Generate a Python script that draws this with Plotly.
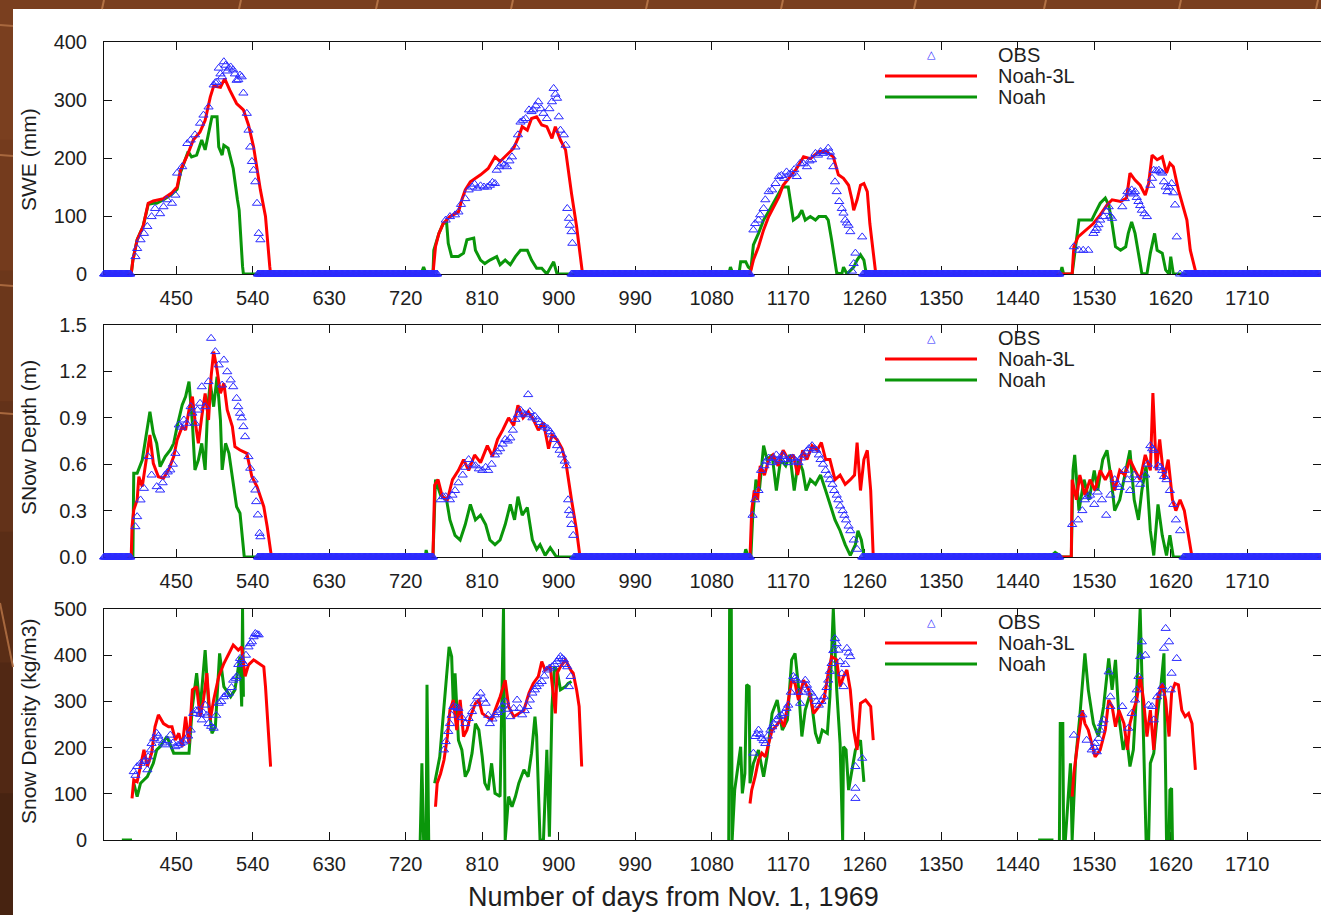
import plotly.graph_objects as go

# ---------------------------------------------------------------------------
# Data: day number (days from Nov. 1, 1969) and value
# ---------------------------------------------------------------------------
X_TICKS = [450, 540, 630, 720, 810, 900, 990, 1080, 1170, 1260, 1350, 1440, 1530, 1620, 1710]
SWE_TICKS = [0, 100, 200, 300, 400]
DEPTH_TICKS = [0.0, 0.3, 0.6, 0.9, 1.2, 1.5]
DEPTH_TICKTEXT = ["0.0", "0.3", "0.6", "0.9", "1.2", "1.5"]
DENS_TICKS = [0, 100, 200, 300, 400, 500]

# runs of consecutive days with zero observed snow (daily OBS = 0)
SWE_OBS_ZERO_RUNS = [(365, 396), (546, 757), (915, 1125), (1258, 1489), (1636, 1796)]
DEPTH_OBS_ZERO_RUNS = [(365, 396), (546, 752), (918, 1125), (1257, 1489), (1635, 1796)]

# ---- SWE (mm)
SWE_OBS = [
    (402, 30), (404, 44), (408, 59), (412, 70), (416, 82), (421, 99), (425, 113), (431, 104),
    (435, 116), (439, 128), (445, 122), (449, 136), (451, 174), (457, 185), (463, 225), (467, 231),
    (472, 240), (478, 260), (482, 274), (488, 288), (494, 326), (496, 330), (498, 331), (500, 355),
    (502, 345), (504, 340), (506, 366), (508, 360), (510, 350), (512, 355), (514, 357), (517, 352),
    (519, 345), (521, 334), (523, 335), (525, 343), (527, 340), (529, 312), (533, 277), (535, 248),
    (537, 219), (539, 194), (541, 179), (543, 159), (545, 122), (547, 70), (549, 59),
    (767, 93), (772, 99), (778, 102), (782, 107), (785, 120), (790, 130), (794, 145), (798, 150),
    (801, 155), (804, 148), (808, 152), (812, 150), (816, 150), (819, 153), (822, 158), (825, 156),
    (827, 179), (830, 185), (833, 191), (836, 188), (839, 185), (842, 195), (845, 202), (849, 219),
    (852, 240), (855, 262), (858, 265), (861, 268), (865, 283), (868, 280), (870, 283), (873, 290),
    (876, 297), (879, 285), (882, 277), (886, 268), (889, 285), (892, 297), (894, 320), (896, 310),
    (898, 303), (900, 271), (902, 248), (906, 240), (908, 222), (910, 113), (912, 96), (913, 84),
    (915, 73), (916, 53),
    (1129, 76), (1131, 87), (1135, 93), (1137, 102), (1141, 113), (1143, 128), (1147, 142),
    (1151, 145), (1155, 156), (1159, 168), (1162, 170), (1165, 165), (1168, 176), (1171, 172),
    (1174, 174), (1177, 180), (1180, 168), (1184, 191), (1188, 190), (1192, 185), (1195, 195),
    (1198, 197), (1202, 208), (1205, 205), (1208, 211), (1211, 208), (1214, 211), (1217, 217),
    (1219, 210), (1221, 202), (1223, 185), (1225, 159), (1227, 142), (1230, 125), (1233, 113),
    (1235, 105), (1237, 93), (1239, 88), (1241, 84), (1243, 73), (1245, 5), (1247, 18), (1249, 36),
    (1257, 64),
    (1506, 47), (1512, 41), (1517, 41), (1523, 41), (1529, 70), (1531, 75), (1533, 79), (1535, 85),
    (1537, 93), (1541, 99), (1544, 108), (1547, 116), (1549, 100), (1551, 96), (1563, 116),
    (1566, 130), (1569, 142), (1572, 140), (1574, 145), (1576, 138), (1578, 142), (1580, 132),
    (1582, 125), (1584, 118), (1586, 110), (1589, 104), (1592, 99), (1596, 153), (1598, 165),
    (1600, 179), (1603, 178), (1606, 179), (1608, 176), (1610, 174), (1612, 159), (1614, 150),
    (1616, 142), (1618, 150), (1621, 156), (1623, 140), (1625, 119), (1627, 64), (1631, 0),
]

SWE_NOAH3L = [
    (365, 0), (397, 0), (399, 24), (404, 59), (411, 82), (417, 122), (423, 126), (435, 130),
    (445, 140), (451, 150), (455, 179), (464, 208), (470, 231), (478, 245), (484, 265), (490, 305),
    (494, 324), (502, 322), (507, 337), (513, 317), (521, 294), (529, 283), (535, 257), (541, 219),
    (549, 145), (555, 99), (560, 13), (561, 0),
    (752, 0), (755, 47), (759, 70), (764, 87), (772, 99), (782, 107), (786, 128), (790, 145),
    (796, 159), (808, 171), (817, 182), (825, 202), (831, 194), (839, 205), (847, 217), (853, 237),
    (857, 254), (863, 248), (868, 268), (874, 271), (880, 257), (886, 254), (892, 234), (896, 254),
    (902, 231), (908, 214), (911, 179), (915, 139), (921, 82), (927, 7), (928, 0),
    (1125, 0), (1129, 24), (1135, 47), (1141, 76), (1147, 99), (1153, 116), (1159, 133),
    (1164, 153), (1172, 168), (1180, 182), (1188, 202), (1196, 199), (1206, 211), (1215, 211),
    (1223, 202), (1229, 171), (1235, 165), (1241, 153), (1245, 128), (1247, 110), (1251, 128),
    (1255, 153), (1259, 156), (1263, 142), (1266, 87), (1270, 36), (1272, 7), (1273, 0),
    (1504, 0), (1506, 47), (1511, 64), (1521, 76), (1529, 87), (1537, 102), (1545, 119),
    (1551, 128), (1561, 125), (1568, 131), (1572, 174), (1578, 162), (1584, 153), (1590, 136),
    (1594, 156), (1598, 205), (1604, 197), (1610, 202), (1615, 174), (1619, 191), (1623, 185),
    (1629, 145), (1635, 116), (1639, 93), (1643, 41), (1649, 1), (1650, 0), (1800, 0),
]

SWE_NOAH = [
    (365, 0), (397, 0), (399, 24), (404, 59), (411, 82), (417, 120), (423, 122), (427, 122),
    (435, 128), (445, 138), (451, 146), (455, 175), (464, 211), (468, 202), (474, 205), (480, 231),
    (484, 214), (488, 242), (492, 271), (498, 271), (500, 219), (504, 205), (506, 222), (511, 217),
    (517, 182), (522, 128), (524, 110), (528, 13), (529, 0),
    (738, 0), (741, 12), (744, 0), (752, 0), (753, 41), (759, 70), (764, 87), (768, 90), (770, 53),
    (774, 30), (782, 30), (788, 36), (792, 59), (800, 62), (802, 41), (808, 24), (813, 18),
    (819, 24), (827, 30), (831, 16), (837, 24), (843, 16), (849, 30), (855, 41), (863, 41),
    (868, 24), (874, 10), (880, 10), (886, 0), (894, 21), (898, 0),
    (1100, 0), (1102, 12), (1105, 0), (1112, 0), (1114, 21), (1120, 21), (1123, 12), (1126, 8),
    (1129, 50), (1135, 70), (1141, 93), (1149, 113), (1157, 133), (1163, 150), (1170, 150),
    (1174, 110), (1176, 93), (1182, 99), (1186, 110), (1190, 93), (1196, 99), (1202, 93),
    (1206, 99), (1214, 99), (1217, 93), (1221, 59), (1225, 18), (1227, 2), (1233, 0), (1235, 12),
    (1239, 0), (1247, 12), (1251, 24), (1255, 33), (1259, 24), (1261, 7), (1263, 0),
    (1490, 0), (1492, 12), (1494, 0), (1504, 0), (1508, 47), (1512, 93), (1521, 93), (1527, 93),
    (1531, 105), (1537, 122), (1543, 131), (1547, 119), (1551, 87), (1555, 47), (1561, 41),
    (1567, 47), (1570, 70), (1574, 90), (1578, 70), (1582, 36), (1586, 1), (1592, 0), (1596, 36),
    (1601, 70), (1604, 41), (1610, 36), (1614, 7), (1618, 0), (1620, 30), (1623, 0), (1800, 0),
]

# ---- Snow depth (m)
DEPTH_OBS = [
    (402, 0.196), (404, 0.261), (408, 0.369), (412, 0.444), (417, 0.649), (421, 0.530),
    (427, 0.455), (431, 0.433), (434, 0.48), (437, 0.530), (440, 0.55), (443, 0.563), (446, 0.60),
    (449, 0.670), (453, 0.854), (456, 0.84), (459, 0.886), (462, 0.865), (467, 0.972), (469, 0.93),
    (472, 0.865), (475, 0.95), (478, 0.994), (480, 1.101), (484, 0.972), (488, 1.134),
    (491, 1.414), (496, 1.328), (500, 1.242), (504, 1.112), (506, 1.274), (510, 1.198),
    (514, 1.145), (517, 1.101), (521, 1.026), (523, 0.972), (525, 0.929), (527, 0.90),
    (529, 0.843), (531, 0.778), (535, 0.649), (537, 0.574), (541, 0.498), (543, 0.433),
    (544, 0.358), (546, 0.272), (548, 0.153), (549, 0.131),
    (761, 0.37), (764, 0.39), (767, 0.39), (772, 0.37), (775, 0.40), (778, 0.43), (782, 0.48),
    (787, 0.53), (790, 0.58), (794, 0.63), (798, 0.60), (802, 0.59), (806, 0.57), (810, 0.56),
    (814, 0.58), (817, 0.56), (821, 0.60), (825, 0.66), (828, 0.68), (831, 0.70), (834, 0.73),
    (837, 0.76), (840, 0.75), (843, 0.77), (846, 0.82), (849, 0.89), (852, 0.92), (855, 0.95),
    (858, 0.93), (861, 0.92), (864, 1.05), (866, 0.94), (869, 0.90), (872, 0.91), (875, 0.89),
    (878, 0.87), (881, 0.85), (884, 0.84), (887, 0.83), (890, 0.81), (892, 0.79), (895, 0.76),
    (898, 0.72), (901, 0.69), (904, 0.66), (907, 0.62), (909, 0.59), (911, 0.37), (912, 0.30),
    (914, 0.27), (915, 0.21), (917, 0.14),
    (1128, 0.27), (1131, 0.37), (1135, 0.43), (1138, 0.56), (1142, 0.59), (1144, 0.62),
    (1147, 0.64), (1151, 0.61), (1153, 0.64), (1156, 0.66), (1158, 0.62), (1161, 0.63),
    (1163, 0.66), (1165, 0.65), (1168, 0.63), (1170, 0.61), (1173, 0.64), (1176, 0.64),
    (1179, 0.62), (1182, 0.61), (1185, 0.64), (1188, 0.66), (1191, 0.68), (1194, 0.70),
    (1198, 0.72), (1201, 0.70), (1203, 0.69), (1206, 0.66), (1208, 0.63), (1211, 0.60),
    (1214, 0.56), (1217, 0.53), (1219, 0.50), (1222, 0.47), (1224, 0.43), (1227, 0.40),
    (1229, 0.37), (1231, 0.33), (1234, 0.30), (1236, 0.27), (1238, 0.24), (1241, 0.20),
    (1243, 0.17), (1247, 0.11), (1251, 0.05),
    (1504, 0.21), (1511, 0.24), (1516, 0.30), (1519, 0.37), (1522, 0.39), (1525, 0.40),
    (1530, 0.34), (1534, 0.42), (1539, 0.37), (1544, 0.27), (1549, 0.40), (1554, 0.50),
    (1557, 0.47), (1560, 0.45), (1566, 0.56), (1569, 0.50), (1572, 0.43), (1577, 0.53),
    (1581, 0.50), (1584, 0.47), (1590, 0.53), (1593, 0.60), (1596, 0.72), (1598, 0.70),
    (1600, 0.69), (1605, 0.59), (1608, 0.58), (1610, 0.56), (1612, 0.52), (1615, 0.50),
    (1619, 0.43), (1623, 0.34), (1626, 0.24), (1631, 0.17),
]

DEPTH_NOAH3L = [
    (365, 0), (397, 0), (398, 0.196), (400, 0.304), (404, 0.369), (406, 0.519), (410, 0.455),
    (416, 0.670), (419, 0.789), (423, 0.606), (429, 0.519), (435, 0.509), (441, 0.563),
    (447, 0.649), (451, 0.757), (457, 0.843), (461, 0.821), (465, 0.951), (469, 1.037),
    (472, 0.886), (476, 0.735), (480, 0.907), (484, 1.058), (488, 0.886), (491, 1.166),
    (494, 1.328), (498, 1.209), (502, 1.058), (506, 1.123), (510, 0.951), (516, 0.843),
    (519, 0.713), (525, 0.692), (533, 0.670), (539, 0.519), (545, 0.455), (553, 0.325),
    (557, 0.196), (561, 0.024), (562, 0),
    (752, 0), (754, 0.465), (758, 0.50), (763, 0.39), (769, 0.37), (775, 0.50), (782, 0.56),
    (788, 0.63), (794, 0.56), (801, 0.66), (808, 0.61), (816, 0.72), (822, 0.65), (828, 0.76),
    (834, 0.82), (841, 0.90), (847, 0.85), (852, 0.98), (858, 0.90), (864, 0.94), (870, 0.89),
    (876, 0.82), (882, 0.87), (888, 0.70), (892, 0.79), (898, 0.76), (904, 0.70), (909, 0.59),
    (915, 0.37), (921, 0.17), (925, 0),
    (1125, 0), (1127, 0.30), (1130, 0.43), (1134, 0.37), (1137, 0.59), (1142, 0.53),
    (1147, 0.63), (1152, 0.66), (1158, 0.59), (1164, 0.69), (1170, 0.63), (1176, 0.66),
    (1181, 0.53), (1187, 0.69), (1192, 0.63), (1198, 0.72), (1204, 0.69), (1209, 0.74),
    (1214, 0.63), (1219, 0.63), (1225, 0.50), (1231, 0.53), (1237, 0.47), (1243, 0.50),
    (1248, 0.53), (1251, 0.74), (1255, 0.43), (1259, 0.63), (1263, 0.69), (1267, 0.43), (1270, 0),
    (1503, 0), (1504, 0.50), (1509, 0.37), (1513, 0.53), (1519, 0.40), (1525, 0.50),
    (1531, 0.43), (1537, 0.56), (1543, 0.50), (1549, 0.56), (1554, 0.43), (1560, 0.56),
    (1566, 0.53), (1572, 0.63), (1578, 0.56), (1584, 0.50), (1590, 0.66), (1596, 0.56),
    (1599, 1.06), (1603, 0.56), (1607, 0.76), (1612, 0.50), (1617, 0.63), (1622, 0.37),
    (1626, 0.30), (1631, 0.37), (1636, 0.30), (1640, 0.17), (1645, 0), (1800, 0),
]

DEPTH_NOAH = [
    (365, 0), (399, 0), (400, 0.541), (404, 0.541), (410, 0.627), (416, 0.843), (419, 0.940),
    (423, 0.800), (427, 0.735), (431, 0.584), (437, 0.649), (443, 0.692), (447, 0.735),
    (451, 0.843), (457, 0.983), (461, 1.037), (465, 1.134), (469, 0.865), (472, 0.563),
    (476, 0.627), (480, 0.735), (484, 0.563), (487, 0.972), (490, 1.123), (494, 0.972),
    (498, 1.166), (502, 0.886), (504, 0.563), (508, 0.735), (512, 0.670), (516, 0.519),
    (521, 0.325), (525, 0.283), (529, 0.089), (530, 0),
    (743, 0), (744, 0.045), (746, 0), (752, 0), (755, 0.50), (761, 0.40), (768, 0.37),
    (772, 0.24), (778, 0.14), (784, 0.11), (790, 0.21), (796, 0.34), (802, 0.24), (808, 0.27),
    (814, 0.21), (819, 0.11), (825, 0.08), (831, 0.11), (837, 0.21), (843, 0.34), (848, 0.24),
    (852, 0.39), (857, 0.27), (863, 0.32), (869, 0.11), (874, 0.05), (878, 0.08), (884, 0.01),
    (890, 0.06), (896, 0.01), (899, 0),
    (1118, 0), (1120, 0.05), (1123, 0), (1126, 0), (1128, 0.24), (1132, 0.50), (1136, 0.43),
    (1141, 0.72), (1145, 0.63), (1151, 0.66), (1156, 0.43), (1161, 0.63), (1167, 0.59),
    (1172, 0.66), (1177, 0.43), (1182, 0.63), (1187, 0.56), (1191, 0.43), (1196, 0.50),
    (1202, 0.47), (1208, 0.53), (1214, 0.43), (1219, 0.34), (1225, 0.24), (1231, 0.17),
    (1237, 0.08), (1243, 0.01), (1249, 0.08), (1252, 0.17), (1256, 0.11), (1259, 0.01), (1262, 0),
    (1464, 0), (1466, 0.01), (1480, 0.01), (1484, 0.03), (1492, 0), (1503, 0), (1505, 0.56),
    (1507, 0.66), (1512, 0.30), (1518, 0.50), (1524, 0.37), (1530, 0.56), (1534, 0.43),
    (1540, 0.63), (1545, 0.69), (1550, 0.50), (1554, 0.30), (1560, 0.37), (1566, 0.53),
    (1572, 0.69), (1577, 0.37), (1582, 0.24), (1586, 0.43), (1591, 0.59), (1596, 0.17),
    (1600, 0.01), (1605, 0.34), (1610, 0.14), (1615, 0.01), (1619, 0.14), (1623, 0), (1800, 0),
]

# ---- Snow density (kg/m3); None separates snow seasons (no snow -> no density)
DENS_OBS = [
    (400, 148), (402, 140), (404, 159), (408, 166), (412, 170), (414, 173), (416, 152), (417, 180),
    (420, 195), (421, 209), (424, 220), (427, 231), (429, 225), (431, 216), (434, 210), (437, 206),
    (440, 215), (443, 227), (446, 210), (449, 202), (452, 205), (455, 209), (458, 212), (461, 216),
    (464, 225), (467, 238), (470, 274), (473, 280), (476, 281), (478, 272), (480, 260), (482, 275),
    (484, 292), (486, 270), (488, 252), (491, 246), (494, 242), (497, 270), (500, 296), (503, 300),
    (506, 310), (509, 315), (512, 318), (515, 330), (517, 346), (520, 350), (521, 354), (523, 380),
    (525, 393), (527, 388), (529, 382), (532, 400), (535, 418), (537, 425), (539, 429), (541, 440),
    (543, 447), (545, 445), (547, 444),
    (765, 195), (767, 213), (770, 235), (772, 252), (774, 270), (776, 289), (779, 287), (782, 285),
    (786, 265), (790, 252), (794, 263), (798, 278), (801, 295), (804, 310), (808, 318), (811, 305),
    (814, 296), (817, 270), (819, 252), (822, 262), (825, 271), (828, 276), (831, 281), (834, 290),
    (837, 299), (840, 283), (843, 267), (847, 285), (851, 303), (854, 285), (857, 271), (860, 280),
    (863, 289), (866, 303), (869, 318), (872, 325), (874, 332), (877, 338), (880, 343), (883, 355),
    (886, 368), (889, 372), (892, 375), (895, 380), (898, 386), (900, 392), (902, 397), (904, 393),
    (906, 390), (908, 380), (910, 375), (912, 332), (914, 354),
    (1129, 188), (1131, 224), (1133, 230), (1135, 238), (1137, 228), (1139, 220), (1141, 215),
    (1143, 209), (1146, 225), (1149, 238), (1151, 245), (1153, 252), (1156, 260), (1159, 267),
    (1162, 270), (1165, 274), (1168, 285), (1170, 292), (1173, 320), (1176, 354), (1178, 350),
    (1180, 346), (1182, 320), (1184, 296), (1187, 320), (1190, 346), (1192, 335), (1194, 325),
    (1197, 318), (1200, 310), (1203, 300), (1206, 292), (1209, 300), (1212, 310), (1215, 330),
    (1217, 346), (1219, 365), (1221, 382), (1223, 410), (1225, 436), (1227, 425), (1229, 411),
    (1231, 386), (1233, 360), (1235, 332), (1237, 380), (1239, 415), (1241, 405), (1243, 397),
    (1249, 159), (1249, 112), (1249, 90), (1257, 177),
    (1506, 227), (1516, 271), (1521, 216), (1527, 195), (1530, 200), (1531, 209), (1533, 191),
    (1535, 220), (1537, 238), (1539, 252), (1541, 260), (1547, 364), (1549, 310), (1549, 289),
    (1563, 289), (1570, 242), (1574, 274), (1578, 303), (1580, 325), (1582, 354), (1584, 397),
    (1586, 429), (1590, 400), (1594, 292), (1598, 289), (1600, 260), (1604, 310), (1608, 318),
    (1610, 332), (1612, 415), (1614, 458), (1618, 429), (1620, 325), (1621, 361), (1627, 393),
]

DENS_NOAH3L = [
    (398, 90), (400, 130), (404, 126), (408, 159), (412, 195), (416, 159), (421, 188), (425, 245),
    (429, 271), (435, 252), (441, 245), (445, 245), (449, 216), (453, 231), (457, 202), (461, 267),
    (465, 209), (469, 325), (474, 332), (478, 267), (482, 303), (486, 361), (490, 260), (494, 303),
    (500, 354), (506, 382), (512, 404), (517, 422), (523, 411), (527, 418), (531, 354), (535, 379),
    (541, 390), (547, 382), (553, 375), (555, 332), (559, 224), (561, 159), None,
    (755, 72), (757, 123), (761, 144), (765, 173), (769, 224), (772, 281), (776, 303), (780, 238),
    (784, 303), (788, 224), (792, 238), (796, 267), (802, 296), (806, 303), (810, 274), (816, 267),
    (821, 260), (825, 281), (831, 310), (837, 346), (841, 289), (847, 267), (853, 274), (859, 281),
    (865, 318), (870, 339), (876, 354), (880, 386), (884, 368), (890, 375), (896, 274), (898, 361),
    (902, 375), (908, 390), (914, 368), (917, 361), (921, 325), (924, 289), (927, 159), None,
    (1125, 79), (1127, 108), (1131, 137), (1135, 173), (1139, 188), (1143, 180), (1147, 209),
    (1151, 238), (1155, 245), (1161, 260), (1165, 245), (1170, 303), (1174, 346), (1178, 339),
    (1182, 303), (1188, 346), (1194, 325), (1200, 274), (1206, 289), (1212, 303), (1217, 361),
    (1221, 397), (1227, 390), (1231, 332), (1235, 354), (1239, 368), (1243, 325), (1247, 238),
    (1251, 195), (1255, 296), (1261, 303), (1267, 289), (1270, 216), None,
    (1504, 94), (1506, 144), (1510, 202), (1516, 281), (1519, 252), (1523, 238), (1527, 209),
    (1531, 180), (1537, 195), (1543, 238), (1547, 303), (1551, 289), (1555, 245), (1559, 281),
    (1565, 252), (1569, 195), (1572, 252), (1576, 281), (1580, 303), (1584, 354), (1588, 303),
    (1592, 224), (1596, 281), (1600, 195), (1604, 303), (1610, 339), (1614, 303), (1618, 224),
    (1621, 318), (1625, 339), (1629, 336), (1633, 281), (1637, 267), (1641, 274), (1645, 252),
    (1647, 202), (1649, 152),
]

DENS_NOAH = [
    (386, 0), (398, 0), None,
    (400, 123), (404, 94), (408, 123), (416, 137), (423, 166), (427, 195), (431, 202), (439, 224),
    (447, 188), (457, 188), (465, 188), (469, 289), (474, 361), (478, 281), (484, 411), (488, 296),
    (492, 231), (496, 245), (501, 404), (506, 332), (514, 310), (519, 325), (525, 397), (527, 289),
    (528, 500), (529, 310), None,
    (737, 0), (739, 166), (741, 0), (744, 0), (745, 336), (747, 0), None,
    (754, 123), (760, 180), (768, 354), (771, 418), (774, 397), (776, 289), (778, 361), (782, 216),
    (786, 195), (790, 137), (794, 152), (798, 188), (802, 252), (806, 238), (810, 180), (813, 123),
    (817, 108), (821, 166), (825, 101), (831, 94), (835, 500), (837, 0), (841, 94), (845, 72),
    (849, 94), (853, 123), (859, 152), (864, 137), (868, 188), (872, 267), (874, 224), (878, 0),
    (882, 0), (886, 195), (889, 7), (892, 289), (895, 375), (898, 368), (902, 325), (908, 332),
    (911, 339), (915, 343), None,
    (1100, 0), (1101, 500), (1103, 500), (1104, 0), (1107, 108), (1110, 144), (1114, 202),
    (1116, 101), (1119, 144), (1121, 336), (1124, 332), (1125, 123), (1129, 166), (1135, 195),
    (1141, 137), (1145, 180), (1151, 274), (1157, 303), (1163, 238), (1169, 260), (1174, 390),
    (1178, 404), (1182, 332), (1186, 224), (1190, 281), (1196, 318), (1202, 231), (1206, 209),
    (1210, 238), (1216, 231), (1219, 310), (1223, 500), (1227, 325), (1231, 209), (1234, 0),
    (1235, 202), (1238, 195), (1241, 108), (1245, 150), (1249, 195), (1255, 216), (1259, 126), None,
    (1464, 0), (1482, 0), None,
    (1489, 0), (1490, 252), (1493, 252), (1494, 0), (1496, 0), (1502, 166), (1504, 0), (1508, 173),
    (1513, 267), (1519, 404), (1523, 325), (1529, 252), (1535, 224), (1541, 289), (1547, 393),
    (1551, 325), (1555, 390), (1559, 267), (1564, 195), (1568, 224), (1572, 159), (1576, 195),
    (1580, 325), (1584, 500), (1586, 361), (1588, 238), (1591, 0), (1594, 0), (1596, 166),
    (1600, 188), (1604, 267), (1608, 325), (1612, 404), (1615, 0), (1618, 0), (1619, 108),
    (1621, 112), (1622, 0),
]

# ---------------------------------------------------------------------------
# Helpers
# ---------------------------------------------------------------------------
W, H = 1321, 915
M_L, M_R, M_T, M_B = 104, 0, 42, 75
PW, PH = W - M_L - M_R, H - M_T - M_B

FONT = "Liberation Sans, Arial, sans-serif"
TXT = "#1e1e1e"
RED = "#ff0000"
GREEN = "#0a960a"
BLUE = "#2b2bff"


def fx(px):
    return (px - M_L) / PW


def fy(py):
    return (H - M_B - py) / PH


def unzip(pairs):
    xs, ys = [], []
    for p in pairs:
        if p is None:
            xs.append(None)
            ys.append(None)
        else:
            xs.append(p[0])
            ys.append(p[1])
    return xs, ys


def with_zero_runs(pairs, runs):
    xs, ys = unzip(pairs)
    for a, b in runs:
        for d in range(a, b + 1):
            xs.append(d)
            ys.append(0)
    return xs, ys


# pixel rows of each panel (top, bottom)
PANELS = [(42, 274), (325, 557), (609, 840)]

fig = go.Figure()

panel_data = [
    (SWE_NOAH, SWE_NOAH3L, with_zero_runs(SWE_OBS, SWE_OBS_ZERO_RUNS)),
    (DEPTH_NOAH, DEPTH_NOAH3L, with_zero_runs(DEPTH_OBS, DEPTH_OBS_ZERO_RUNS)),
    (DENS_NOAH, DENS_NOAH3L, unzip(DENS_OBS)),
]

for i, (noah, noah3l, obs) in enumerate(panel_data):
    xa = "x" if i == 0 else f"x{i + 1}"
    ya = "y" if i == 0 else f"y{i + 1}"
    nx, ny = unzip(noah)
    rx, ry = unzip(noah3l)
    fig.add_trace(go.Scatter(x=nx, y=ny, mode="lines", xaxis=xa, yaxis=ya,
                             line=dict(color=GREEN, width=3), connectgaps=False,
                             showlegend=False, name="Noah"))
    fig.add_trace(go.Scatter(x=rx, y=ry, mode="lines", xaxis=xa, yaxis=ya,
                             line=dict(color=RED, width=3), connectgaps=False,
                             showlegend=False, name="Noah-3L"))
    fig.add_trace(go.Scatter(x=obs[0], y=obs[1], mode="markers", xaxis=xa, yaxis=ya,
                             marker=dict(symbol="triangle-up-open", size=8, color=BLUE,
                                         line=dict(width=1, color=BLUE)),
                             cliponaxis=False, showlegend=False, name="OBS"))

axis_common = dict(
    showline=True, linecolor="#111", linewidth=1, mirror="ticks",
    ticks="inside", ticklen=8, tickwidth=1, tickcolor="#111",
    showgrid=False, zeroline=False, layer="below traces",
    tickfont=dict(family=FONT, size=20, color=TXT),
)

layout_axes = {}
yranges = [[0, 400], [0, 1.5], [0, 500]]
yticks = [
    dict(tickvals=SWE_TICKS),
    dict(tickvals=DEPTH_TICKS, ticktext=DEPTH_TICKTEXT),
    dict(tickvals=DENS_TICKS),
]
for i, (top, bot) in enumerate(PANELS):
    sfx = "" if i == 0 else str(i + 1)
    layout_axes[f"xaxis{sfx}"] = dict(
        axis_common, domain=[0, 1], anchor=f"y{sfx}",
        range=[365, 365 + PW / 0.85], tickvals=X_TICKS, ticklabelstandoff=6,
    )
    layout_axes[f"yaxis{sfx}"] = dict(
        axis_common, domain=[fy(bot), fy(top)], anchor=f"x{sfx}",
        range=yranges[i], ticklabelstandoff=12, **yticks[i],
    )

fig.update_layout(**layout_axes)

# ---------------------------------------------------------------------------
# Slide background, titles and legends
# ---------------------------------------------------------------------------
shapes = []
# white sheet
shapes.append(dict(type="rect", xref="paper", yref="paper", layer="below",
                   x0=fx(13), x1=fx(1340), y0=fy(930), y1=fy(9),
                   fillcolor="white", line=dict(width=0)))
# darker shading toward the bottom of the left border
left_shades = ["#7a3f1f", "#743b1d", "#6c371b", "#633219", "#5a2d16", "#512814", "#472311"]
band = 915 / len(left_shades)
for k, c in enumerate(left_shades):
    shapes.append(dict(type="rect", xref="paper", yref="paper", layer="below",
                       x0=fx(0), x1=fx(13), y0=fy(9 + (k + 1) * band + 1),
                       y1=fy(9 + k * band), fillcolor=c, line=dict(width=0)))
# tile seams on the border
for sx in [103, 240, 377, 512, 647, 782, 915, 1045, 1180, 1317]:
    shapes.append(dict(type="line", xref="paper", yref="paper", layer="below",
                       x0=fx(sx - 1), x1=fx(sx + 1), y0=fy(9), y1=fy(0),
                       line=dict(color="#b37245", width=2)))
for sy in [25, 155, 285, 413]:
    shapes.append(dict(type="line", xref="paper", yref="paper", layer="below",
                       x0=fx(0), x1=fx(13), y0=fy(sy), y1=fy(sy + 1),
                       line=dict(color="#a8683e", width=2)))
shapes.append(dict(type="line", xref="paper", yref="paper", layer="below",
                   x0=fx(0), x1=fx(13), y0=fy(603), y1=fy(667),
                   line=dict(color="#a8683e", width=2)))

annotations = []
LEG_FONT = dict(family=FONT, size=20, color=TXT)
for top, bot in PANELS:
    dy = top - 42
    # legend samples
    shapes.append(dict(type="line", xref="paper", yref="paper",
                       x0=fx(885), x1=fx(977), y0=fy(76 + dy), y1=fy(76 + dy),
                       line=dict(color=RED, width=3)))
    shapes.append(dict(type="line", xref="paper", yref="paper",
                       x0=fx(885), x1=fx(977), y0=fy(97 + dy), y1=fy(97 + dy),
                       line=dict(color=GREEN, width=3)))
    annotations.append(dict(xref="paper", yref="paper", x=fx(931), y=fy(55 + dy),
                            text="△", showarrow=False, xanchor="center", yanchor="middle",
                            font=dict(family="DejaVu Sans", size=11, color=BLUE)))
    for label, yy in [("OBS", 55), ("Noah-3L", 76), ("Noah", 97)]:
        annotations.append(dict(xref="paper", yref="paper", x=fx(996), y=fy(yy + dy),
                                text=label, showarrow=False, xanchor="left",
                                yanchor="middle", font=LEG_FONT))

# y-axis titles
for label, cy in [("SWE (mm)", 160), ("SNow Depth (m)", 438), ("Snow Density (kg/m3)", 722)]:
    annotations.append(dict(xref="paper", yref="paper", x=fx(28), y=fy(cy), text=label,
                            textangle=-90, showarrow=False, xanchor="center",
                            yanchor="middle", font=dict(family=FONT, size=21, color=TXT)))

# x-axis title
annotations.append(dict(xref="paper", yref="paper", x=fx(673), y=fy(897),
                        text="Number of days from Nov. 1, 1969", showarrow=False,
                        xanchor="center", yanchor="middle",
                        font=dict(family=FONT, size=27, color=TXT)))

fig.update_layout(
    width=W, height=H,
    margin=dict(l=M_L, r=M_R, t=M_T, b=M_B, pad=0),
    paper_bgcolor="#7a3f1f",
    plot_bgcolor="rgba(0,0,0,0)",
    showlegend=False,
    shapes=shapes,
    annotations=annotations,
)

fig.write_html("out.html")
